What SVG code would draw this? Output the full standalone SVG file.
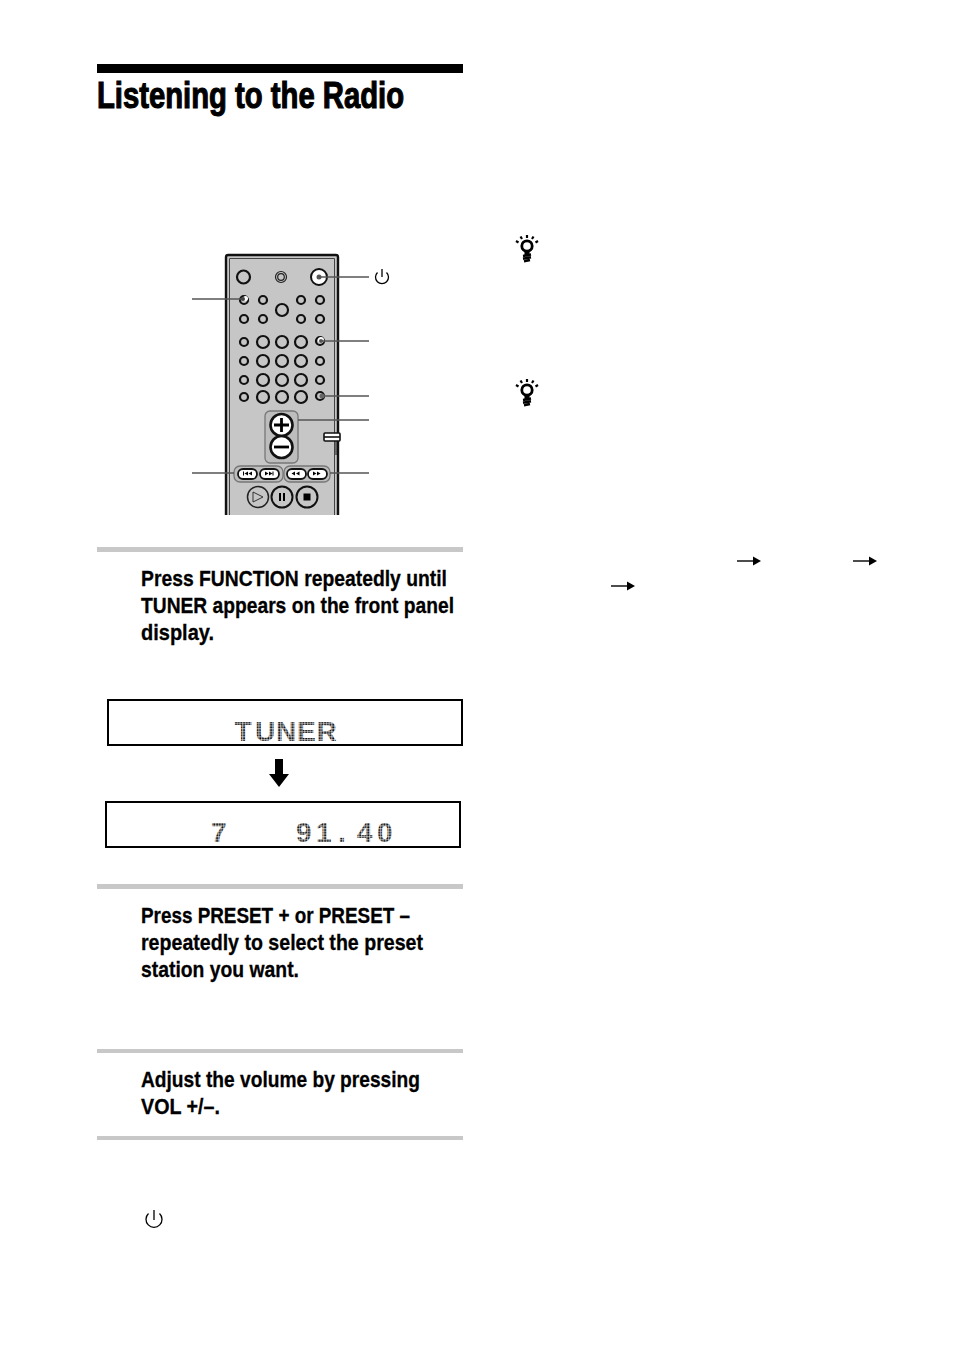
<svg xmlns="http://www.w3.org/2000/svg" width="954" height="1352" viewBox="0 0 954 1352">
<style>
.h{font-family:"Liberation Sans Narrow","Liberation Sans",Arial,sans-serif;font-weight:700;fill:#000}
.t{stroke:#000;stroke-width:1.1}
.s{font-size:22.500px;stroke:#000;stroke-width:.3}
.d{font-family:"Liberation Sans Narrow","Liberation Sans",Arial,sans-serif;font-weight:700;font-size:28px;fill:url(#dots)}
.b{fill:#c6c6c6;stroke:#111;stroke-width:2.200}
.l{stroke:#555;stroke-width:1.500;fill:none}
.k{fill:#000;stroke:none}
.p{fill:none;stroke:#000;stroke-width:1.300}
.pill{fill:#fff;stroke:#111;stroke-width:1.800}
.g{fill:#bdbdbd;stroke:#777;stroke-width:1.300}
</style>
<defs>
<pattern id="dots" width="2.700" height="2.700" patternUnits="userSpaceOnUse"><rect x=".2" y=".2" width="2" height="2" fill="#000"/></pattern>
<g id="bulb"><g fill="none" stroke="#000"><circle cx="0" cy="-2" r="5.200" stroke-width="2.800"/><path d="M-4 8 L4 6.500 M-4 10.800 L4 9.300 M-3 13.300 L3 12" stroke-width="2.400"/><path d="M0-13 V-10 M-6.500-11.500 L-5-9 M6.500-11.500 L5-9 M-11-7 L-8.500-5.500 M11-7 L8.500-5.500" stroke-width="2.200"/></g><path d="M-2.500 3 H2.500 V7 H-2.500Z" fill="#000"/></g>
<g id="arrow"><path d="M0 0 H17" stroke="#000" stroke-width="1.400" fill="none"/><path d="M16-4.500 L24 0 L16 4.500Z" fill="#000"/></g>
</defs>

<rect id="title-bar" x="97" y="64" width="366" height="9" fill="#000"/>
<text id="title" class="h t" x="97" y="108" font-size="36" textLength="307" lengthAdjust="spacingAndGlyphs">Listening to the Radio</text>

<g id="remote">
<path d="M226 515 V257 Q226 255 228 255 H336 Q338 255 338 257 V515" fill="#c6c6c6" stroke="#111" stroke-width="2.400"/>
<path d="M229.500 515 V258.500 H334.500 V515" fill="none" stroke="#444" stroke-width="1"/>
<circle class="b" cx="243.500" cy="277" r="6.500"/>
<g fill="none" stroke="#222"><circle cx="281" cy="277" r="5.500" stroke-width="1.200"/><circle cx="281" cy="277" r="3.300" stroke-width="1.200"/></g>
<circle cx="319" cy="277" r="8" fill="#fff" stroke="#111" stroke-width="2"/>
<g class="b">
<circle cx="244" cy="300" r="4"/><circle cx="263" cy="300" r="4"/><circle cx="301" cy="300" r="4"/><circle cx="320" cy="300" r="4"/>
<circle cx="244" cy="319" r="4"/><circle cx="263" cy="319" r="4"/><circle cx="301" cy="319" r="4"/><circle cx="320" cy="319" r="4"/>
<circle cx="282" cy="310" r="6"/>
<circle cx="244" cy="342" r="4"/><circle cx="263" cy="342" r="6"/><circle cx="282" cy="342" r="6"/><circle cx="301" cy="342" r="6"/><circle cx="320" cy="341" r="4"/>
<circle cx="244" cy="361" r="4"/><circle cx="263" cy="361" r="6"/><circle cx="282" cy="361" r="6"/><circle cx="301" cy="361" r="6"/><circle cx="320" cy="361" r="4"/>
<circle cx="244" cy="380" r="4"/><circle cx="263" cy="380" r="6"/><circle cx="282" cy="380" r="6"/><circle cx="301" cy="380" r="6"/><circle cx="320" cy="380" r="4"/>
<circle cx="244" cy="397" r="4"/><circle cx="263" cy="397" r="6"/><circle cx="282" cy="397" r="6"/><circle cx="301" cy="397" r="6"/><circle cx="320" cy="396" r="4"/>
</g>
<circle cx="245.500" cy="298.500" r="2.500" fill="#fff"/>
<circle cx="321" cy="340" r="3" fill="#fff"/>
<rect class="g" x="265" y="411" width="33" height="52" rx="5"/>
<circle cx="281.500" cy="425" r="11" fill="#fff" stroke="#111" stroke-width="2.600"/>
<circle cx="281.500" cy="447" r="11" fill="#fff" stroke="#111" stroke-width="2.600"/>
<path d="M274 425 H289 M281.500 418 V432" stroke="#000" stroke-width="2.800"/>
<path d="M274 447 H289" stroke="#000" stroke-width="2.800"/>
<rect x="324" y="433" width="16" height="8" rx="1" fill="#fff" stroke="#111" stroke-width="1.600"/>
<path d="M324 437 H340" stroke="#111" stroke-width="1.600"/>
<rect class="g" x="234" y="466" width="49" height="16" rx="6"/>
<rect class="g" x="284" y="466" width="46" height="16" rx="6"/>
<rect class="pill" x="238" y="469" width="19" height="10" rx="5"/>
<rect class="pill" x="260" y="469" width="19" height="10" rx="5"/>
<rect class="pill" x="287" y="469" width="19" height="10" rx="5"/>
<rect class="pill" x="308" y="469" width="19" height="10" rx="5"/>
<path class="k" d="M243 471.500h1v4h-1z M248 471.500v4l-3.500-2z M252 471.500v4l-3.500-2z M265 471.500l3.500 2 -3.500 2z M269 471.500l3.500 2 -3.500 2z M272.500 471.500h1v4h-1z M295 471.500v4l-3.500-2z M299.500 471.500v4l-3.500-2z M313 471.500l3.500 2 -3.500 2z M317 471.500l3.500 2 -3.500 2z"/>
<circle cx="258" cy="497" r="10.500" fill="none" stroke="#222" stroke-width="1.500"/>
<circle cx="282" cy="497" r="10.500" fill="none" stroke="#111" stroke-width="2"/>
<circle cx="307" cy="497" r="10.500" fill="none" stroke="#111" stroke-width="2"/>
<path d="M253 492 L263 497 L253 502Z" fill="none" stroke="#333" stroke-width="1"/>
<path class="k" d="M279 493h2v8h-2z M283 493h2v8h-2z M303.500 493.500h7v7h-7z"/>
<path d="M336 441 L336 455" fill="none" stroke="#111" stroke-width="1"/>
</g>

<g id="connectors">
<path class="l" d="M192 299 H244"/>
<path class="l" d="M319 277 H369"/>
<path class="l" d="M320 341 H369"/>
<path class="l" d="M320 396 H369"/>
<path class="l" d="M298 420 H369"/>
<path class="l" d="M192 473 H234"/>
<path class="l" d="M330 473 H369"/>
<circle cx="319" cy="277" r="2.500" fill="#555"/>
<circle cx="321" cy="341" r="2" fill="#555"/>
<circle cx="322" cy="396" r="2.500" fill="#666"/>
<circle cx="243" cy="299" r="2" fill="#444"/>
</g>

<g id="power-remote"><path class="p" d="M377.500 272.500 A6.500 6.500 0 1 0 386.500 272.500"/><path class="p" d="M382 269 V277"/></g>

<rect id="rule-1" x="97" y="547" width="366" height="5" fill="#c8c8c8"/>
<g id="step-1">
<text class="h s" x="141" y="585.500" textLength="306" lengthAdjust="spacingAndGlyphs">Press FUNCTION repeatedly until</text>
<text class="h s" x="141" y="612.500" textLength="313" lengthAdjust="spacingAndGlyphs">TUNER appears on the front panel</text>
<text class="h s" x="141" y="639.500" textLength="73" lengthAdjust="spacingAndGlyphs">display.</text>
</g>

<g id="display-1">
<rect x="108" y="700" width="354" height="45" fill="#fff" stroke="#000" stroke-width="2"/>
<text class="d" x="234.500 255 276 297 316.500" y="741">TUNER</text>
</g>
<path id="display-arrow" d="M275 759 H283 V774 H289 L279 787 L269 774 H275Z" fill="#000"/>
<g id="display-2">
<rect x="106" y="802" width="354" height="45" fill="#fff" stroke="#000" stroke-width="2"/>
<text class="d" x="211" y="842">7</text>
<text class="d" x="296 316 338 357 377" y="842">91.40</text>
</g>

<rect id="rule-2" x="97" y="884" width="366" height="5" fill="#c8c8c8"/>
<g id="step-2">
<text class="h s" x="141" y="922.500" textLength="269" lengthAdjust="spacingAndGlyphs">Press PRESET + or PRESET –</text>
<text class="h s" x="141" y="949.500" textLength="282" lengthAdjust="spacingAndGlyphs">repeatedly to select the preset</text>
<text class="h s" x="141" y="976.500" textLength="158" lengthAdjust="spacingAndGlyphs">station you want.</text>
</g>

<rect id="rule-3" x="97" y="1049" width="366" height="4" fill="#c8c8c8"/>
<g id="step-3">
<text class="h s" x="141" y="1086.500" textLength="279" lengthAdjust="spacingAndGlyphs">Adjust the volume by pressing</text>
<text class="h s" x="141" y="1113.500" textLength="79" lengthAdjust="spacingAndGlyphs">VOL +/–.</text>
</g>
<rect id="rule-4" x="97" y="1136" width="366" height="4" fill="#c8c8c8"/>

<g id="power-body"><path class="p" d="M148.500 1213.500 A8 8 0 1 0 159.500 1213.500"/><path class="p" d="M154 1210 V1220"/></g>

<use id="tip-1" href="#bulb" x="527" y="248"/>
<use id="tip-2" href="#bulb" x="527" y="392"/>

<use id="arrow-1" href="#arrow" x="737" y="561"/>
<use id="arrow-2" href="#arrow" x="853" y="561"/>
<use id="arrow-3" href="#arrow" x="611" y="586"/>
</svg>
